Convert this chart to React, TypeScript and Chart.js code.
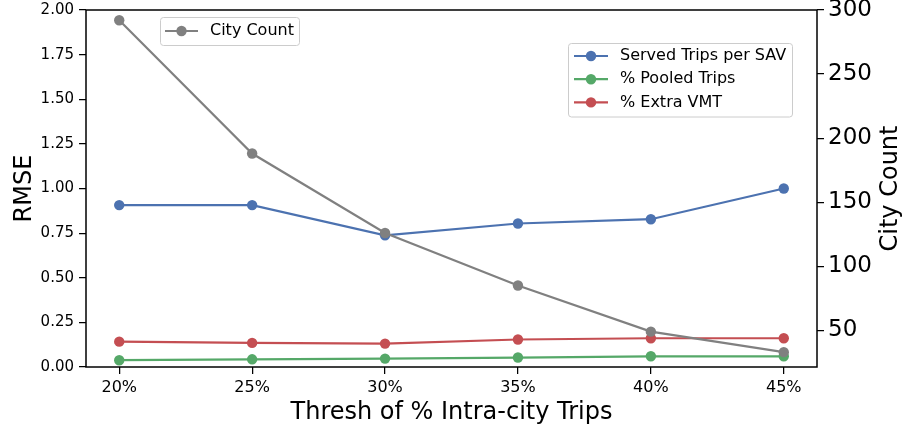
import React, { useEffect, useRef } from "react";
import { Chart, registerables } from "chart.js";

Chart.register(...registerables);

const thresholds = ["20%", "25%", "30%", "35%", "40%", "45%"];
const servedTripsPerSAV = [0.907, 0.907, 0.738, 0.804, 0.828, 1.0];
const pooledTrips = [0.038, 0.043, 0.047, 0.053, 0.06, 0.06];
const extraVMT = [0.142, 0.135, 0.131, 0.154, 0.161, 0.161];
const cityCount = [292, 188, 126, 85, 49, 33];
const rmseTicks = [0, 0.25, 0.5, 0.75, 1.0, 1.25, 1.5, 1.75, 2.0];
const cityTicks = [50, 100, 150, 200, 250, 300];

const FONT = "'DejaVu Sans', sans-serif";
const BLUE = "#4C72B0";
const GREEN = "#55A868";
const RED = "#C44E52";
const GREY = "#808080";

const toPoints = (arr: number[]) => arr.map((y, i) => ({ x: i, y }));

function drawLegend(
  ctx: CanvasRenderingContext2D,
  x0: number,
  y0: number,
  w: number,
  h: number,
  rows: { label: string; color: string }[],
  firstRowY: number,
  rowGap: number,
  lineX0: number,
  lineX1: number,
  textX: number
) {
  ctx.save();
  const r = 3;
  ctx.beginPath();
  ctx.moveTo(x0 + r, y0);
  ctx.lineTo(x0 + w - r, y0);
  ctx.quadraticCurveTo(x0 + w, y0, x0 + w, y0 + r);
  ctx.lineTo(x0 + w, y0 + h - r);
  ctx.quadraticCurveTo(x0 + w, y0 + h, x0 + w - r, y0 + h);
  ctx.lineTo(x0 + r, y0 + h);
  ctx.quadraticCurveTo(x0, y0 + h, x0, y0 + h - r);
  ctx.lineTo(x0, y0 + r);
  ctx.quadraticCurveTo(x0, y0, x0 + r, y0);
  ctx.closePath();
  ctx.fillStyle = "rgba(255,255,255,0.8)";
  ctx.fill();
  ctx.strokeStyle = "#cccccc";
  ctx.lineWidth = 1;
  ctx.stroke();
  rows.forEach((row, i) => {
    const y = firstRowY + i * rowGap;
    ctx.strokeStyle = row.color;
    ctx.lineWidth = 2.2;
    ctx.beginPath();
    ctx.moveTo(lineX0, y);
    ctx.lineTo(lineX1, y);
    ctx.stroke();
    ctx.fillStyle = row.color;
    ctx.beginPath();
    ctx.arc((lineX0 + lineX1) / 2, y, 5.2, 0, Math.PI * 2);
    ctx.fill();
    ctx.fillStyle = "#000";
    ctx.font = `16px ${FONT}`;
    ctx.textAlign = "left";
    ctx.textBaseline = "middle";
    ctx.fillText(row.label, textX, y);
  });
  ctx.restore();
}

const overlayPlugin = {
  id: "overlay",
  afterDraw(chart: any) {
    const ctx: CanvasRenderingContext2D = chart.ctx;
    const a = chart.chartArea;
    ctx.save();
    ctx.strokeStyle = "#000";
    ctx.lineWidth = 1.5;
    ctx.strokeRect(a.left, a.top, a.right - a.left, a.bottom - a.top);
    ctx.fillStyle = "#000";
    ctx.font = `24px ${FONT}`;
    ctx.textAlign = "center";
    ctx.textBaseline = "alphabetic";
    ctx.fillText("Thresh of % Intra-city Trips", (a.left + a.right) / 2, 419);
    const cy = (a.top + a.bottom) / 2;
    ctx.save();
    ctx.translate(30.5, cy);
    ctx.rotate(-Math.PI / 2);
    ctx.fillText("RMSE", 0, 0);
    ctx.restore();
    ctx.save();
    ctx.translate(897, cy);
    ctx.rotate(-Math.PI / 2);
    ctx.fillText("City Count", 0, 0);
    ctx.restore();
    ctx.restore();

    drawLegend(ctx, 160.5, 17.5, 139, 28, [{ label: "City Count", color: GREY }], 31, 0, 165, 198, 210);
    drawLegend(
      ctx,
      568.5,
      43.5,
      224,
      73.5,
      [
        { label: "Served Trips per SAV", color: BLUE },
        { label: "% Pooled Trips", color: GREEN },
        { label: "% Extra VMT", color: RED },
      ],
      56,
      23.2,
      574,
      608,
      620
    );
  },
};

function fixFit(size: { width?: number; height?: number }) {
  return (scale: any) => {
    if (size.width !== undefined) scale.width = size.width;
    if (size.height !== undefined) scale.height = size.height;
    scale.paddingTop = 0;
    scale.paddingBottom = 0;
    scale.paddingLeft = 0;
    scale.paddingRight = 0;
  };
}

export default function App() {
  const canvasRef = useRef<HTMLCanvasElement | null>(null);

  useEffect(() => {
    document.body.style.margin = "0";
    const canvas = canvasRef.current;
    if (!canvas) return;
    const mk = (label: string, data: number[], color: string, axis: string, order: number) => ({
      type: "line" as const,
      label,
      data: toPoints(data),
      borderColor: color,
      backgroundColor: color,
      borderWidth: 2.2,
      pointRadius: 5.2,
      pointBorderWidth: 0,
      pointHoverRadius: 5.2,
      tension: 0,
      yAxisID: axis,
      order,
    });
    const chart = new Chart(canvas, {
      type: "line",
      data: {
        datasets: [
          mk("Served Trips per SAV", servedTripsPerSAV, BLUE, "y", 3),
          mk("% Pooled Trips", pooledTrips, GREEN, "y", 2),
          mk("% Extra VMT", extraVMT, RED, "y", 1),
          mk("City Count", cityCount, GREY, "y2", 0),
        ],
      },
      options: {
        animation: false,
        responsive: false,
        devicePixelRatio: 1,
        layout: { padding: { top: 10, left: 0, right: 0, bottom: 0 } },
        plugins: {
          legend: { display: false },
          tooltip: { enabled: false },
        },
        scales: {
          x: {
            type: "linear",
            min: -0.25,
            max: 5.25,
            afterBuildTicks: (scale: any) => {
              scale.ticks = thresholds.map((_, i) => ({ value: i }));
            },
            afterFit: fixFit({ height: 62 }),
            ticks: {
              callback: (v: any) => thresholds[Math.round(Number(v))] ?? "",
              autoSkip: false,
              maxRotation: 0,
              color: "#000",
              padding: 4,
              font: { family: FONT, size: 16 },
            },
            grid: {
              display: true,
              drawOnChartArea: false,
              drawTicks: true,
              tickLength: 7,
              color: "#000",
              lineWidth: 1.25,
            },
            border: { display: false },
          },
          y: {
            type: "linear",
            position: "left",
            min: 0,
            max: 2,
            afterBuildTicks: (scale: any) => {
              scale.ticks = rmseTicks.map((v) => ({ value: v }));
            },
            afterFit: fixFit({ width: 86 }),
            ticks: {
              callback: (v: any) => Number(v).toFixed(2),
              color: "#000",
              padding: 5,
              font: { family: FONT, size: 15 },
            },
            grid: {
              display: true,
              drawOnChartArea: false,
              drawTicks: true,
              tickLength: 7,
              color: "#000",
              lineWidth: 1.25,
            },
            border: { display: false },
          },
          y2: {
            type: "linear",
            position: "right",
            min: 21.4,
            max: 300,
            afterBuildTicks: (scale: any) => {
              scale.ticks = cityTicks.map((v) => ({ value: v }));
            },
            afterFit: fixFit({ width: 86 }),
            ticks: {
              color: "#000",
              padding: 4,
              font: { family: FONT, size: 23 },
            },
            grid: {
              display: true,
              drawOnChartArea: false,
              drawTicks: true,
              tickLength: 7,
              color: "#000",
              lineWidth: 1.25,
            },
            border: { display: false },
          },
        },
      },
      plugins: [overlayPlugin],
    } as any);
    return () => chart.destroy();
  }, []);

  return (
    <div style={{ width: 903, height: 429, background: "#fff" }}>
      <canvas ref={canvasRef} width={903} height={429} style={{ display: "block" }} />
    </div>
  );
}
